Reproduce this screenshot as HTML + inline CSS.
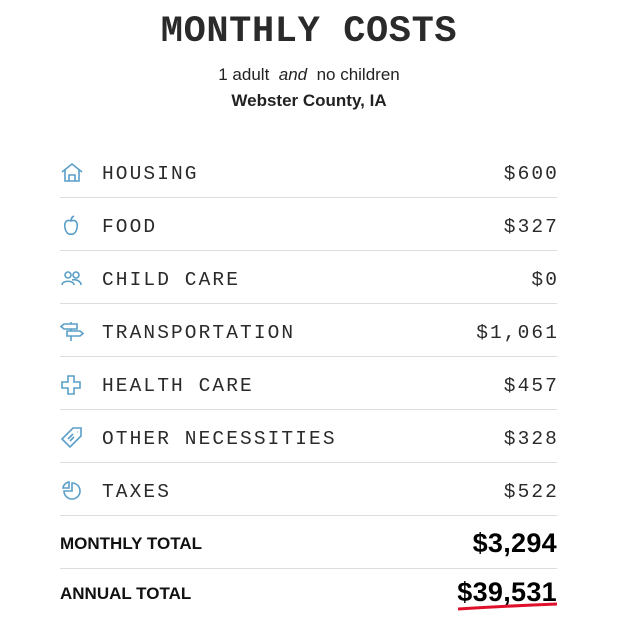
<!DOCTYPE html>
<html><head><style>
body{margin:0;width:618px;height:617px;background:#fff;position:relative;overflow:hidden;font-family:"Liberation Sans",sans-serif;color:#222}
.t{position:absolute;left:0;width:618px;text-align:center}
.title{top:10px;font-family:"Liberation Mono",monospace;font-size:37px;letter-spacing:0.6px;color:#2a2a2a;font-weight:bold;line-height:44px}
.sub1{top:64px;font-size:17px;line-height:22px}
.sub2{top:90px;font-size:17px;font-weight:bold;line-height:22px}
.row{position:absolute;left:60px;width:497px;height:53px;border-bottom:1.5px solid #ddd;box-sizing:border-box}
.lab{position:absolute;left:42px;top:17px;font-family:"Liberation Mono",monospace;font-size:19.5px;letter-spacing:2.1px;color:#2a2a2a;line-height:24px}
.val{position:absolute;right:0;top:17px;font-family:"Liberation Mono",monospace;font-size:19.5px;letter-spacing:2.1px;margin-right:-2px;color:#2a2a2a;line-height:24px}
svg.ic{position:absolute;left:0;top:17px}
.tot{position:absolute;left:60px;width:497px}
.tl{position:absolute;left:0;font-weight:bold;font-size:17px;color:#111}
.tv{position:absolute;right:0;font-weight:bold;font-size:27px;color:#000;letter-spacing:0.3px}
</style></head><body>
<div class="t title">MONTHLY COSTS</div>
<div class="t sub1">1 adult &nbsp;<i>and</i>&nbsp; no children</div>
<div class="t sub2">Webster County, IA</div>

<div class="row" style="top:145px"><svg class="ic" width="24" height="22" viewBox="0 0 24 22" fill="none" stroke="#5a9fc8" stroke-width="1.6"><path d="M2 10 L12 2 L22 10 M5 8 V19 H19 V8 M9 19 V13 H15 V19"/></svg><div class="lab">HOUSING</div><div class="val">$600</div></div>
<div class="row" style="top:198px"><svg class="ic" width="24" height="22" viewBox="0 0 24 22" fill="none" stroke="#5a9fc8" stroke-width="1.6"><path d="M11 6 C6 4 4 8 5 13 C6 18 9 20 11 19 C13 20 16 18 17 13 C18 8 16 4 11 6 Z M11 6 C11 4 12 2 14 1"/></svg><div class="lab">FOOD</div><div class="val">$327</div></div>
<div class="row" style="top:251px"><svg class="ic" width="24" height="22" viewBox="0 0 24 22" fill="none" stroke="#5a9fc8" stroke-width="1.6"><circle cx="8" cy="7" r="3"/><circle cx="16" cy="7" r="3"/><path d="M2 17 C2 12 14 12 14 17 M12 12 C16 11 21 13 21 17"/></svg><div class="lab">CHILD CARE</div><div class="val">$0</div></div>
<div class="row" style="top:304px"><svg class="ic" width="24" height="22" viewBox="0 0 24 22" fill="none" stroke="#5a9fc8" stroke-width="1.6"><path d="M4 3 H17 V8 H4 L1 5.5 Z M7 10 H20 L23 12.5 L20 15 H7 Z M11 1 V3 M11 8 V10 M11 15 V20"/></svg><div class="lab">TRANSPORTATION</div><div class="val">$1,061</div></div>
<div class="row" style="top:357px"><svg class="ic" width="24" height="22" viewBox="0 0 24 22" fill="none" stroke="#5a9fc8" stroke-width="1.6"><path d="M8 2 H14 V8 H20 V14 H14 V20 H8 V14 H2 V8 H8 Z"/></svg><div class="lab">HEALTH CARE</div><div class="val">$457</div></div>
<div class="row" style="top:410px"><svg class="ic" width="24" height="22" viewBox="0 0 24 22" fill="none" stroke="#5a9fc8" stroke-width="1.6"><path d="M13 1 H21 V9 L10 20 L2 12 Z M17 5 h0.5 M8 12 L13 7 M10 14 L14 10"/></svg><div class="lab">OTHER NECESSITIES</div><div class="val">$328</div></div>
<div class="row" style="top:463px"><svg class="ic" width="24" height="22" viewBox="0 0 24 22" fill="none" stroke="#5a9fc8" stroke-width="1.6"><path d="M12 3 A8 8 0 1 1 4 11 H12 Z M3 8 A7 7 0 0 1 9 2 V8 Z"/></svg><div class="lab">TAXES</div><div class="val">$522</div></div>

<div class="tot" style="top:516px;height:53px;border-bottom:1.5px solid #ddd;box-sizing:border-box"><div class="tl" style="top:18px">MONTHLY TOTAL</div><div class="tv" style="top:12px">$3,294</div></div>
<div class="tot" style="top:569px"><div class="tl" style="top:15px">ANNUAL TOTAL</div><div class="tv" style="top:8px">$39,531</div></div>
<svg style="position:absolute;left:456px;top:600px" width="104" height="14"><path d="M2 9 Q50 6 101 4" stroke="#e0102a" stroke-width="3" fill="none"/></svg>
</body></html>
